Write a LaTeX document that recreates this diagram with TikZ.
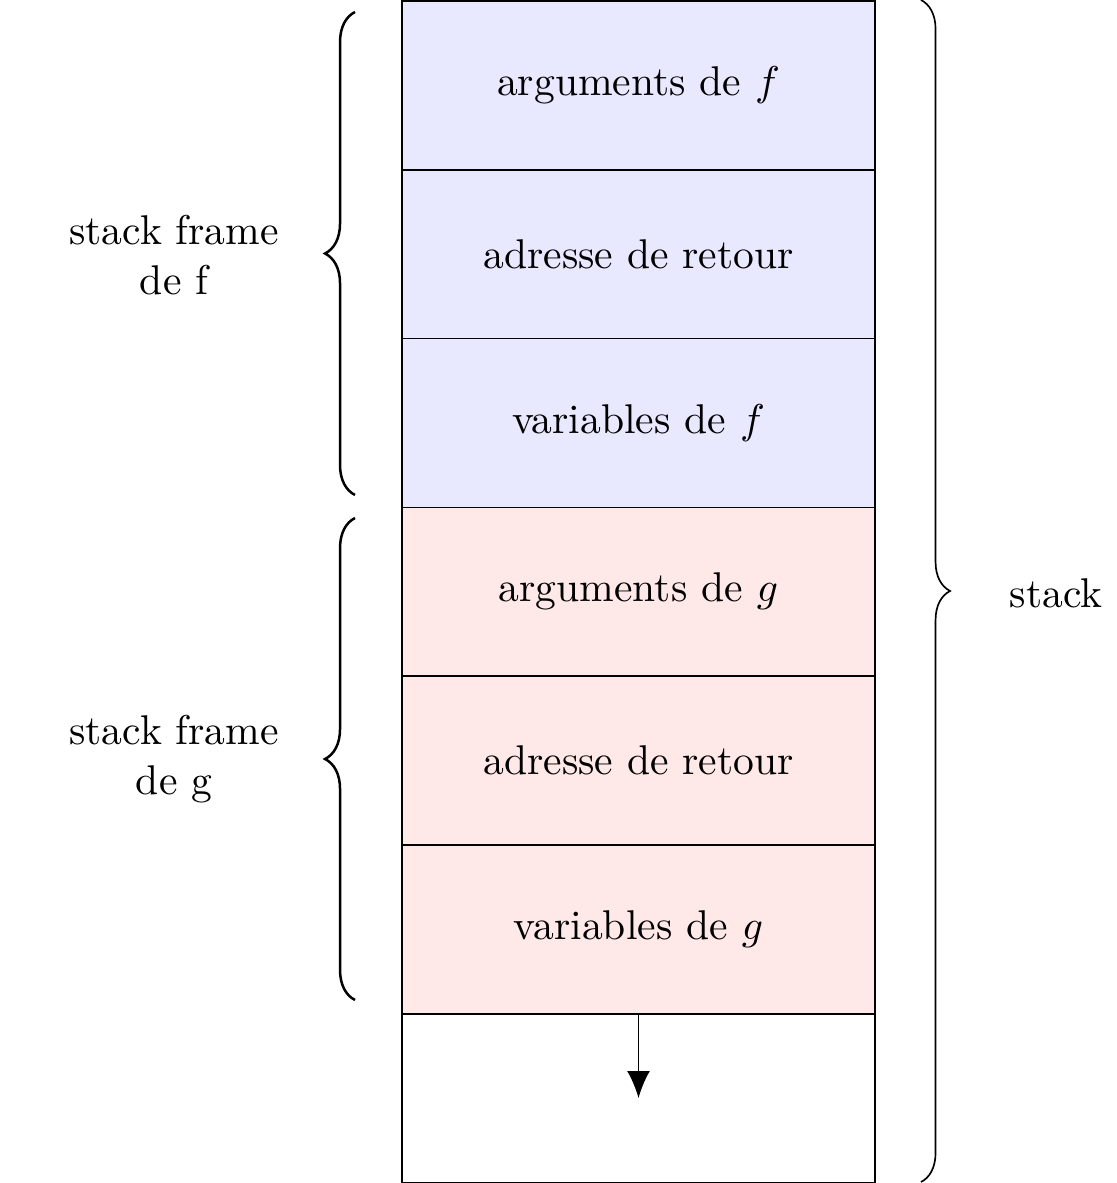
\documentclass[tikz,border=0pt]{standalone}
\usetikzlibrary{decorations.pathreplacing,arrows.meta,positioning}
\begin{document}
\begin{tikzpicture}[x=0.0084567cm,y=0.0084567cm,
  cell/.style={draw=black,line width=0.4pt,rectangle,minimum width=4cm,minimum height=1.4267cm,inner sep=0pt,outer sep=0pt,anchor=north},
  fcell/.style={cell,fill=blue!9},
  gcell/.style={cell,fill=red!9},
  lbrace/.style={decorate,decoration={brace,amplitude=7.2pt},semithick},
  rbrace/.style={decorate,decoration={brace,amplitude=7pt},line width=0.4pt},
  lbl/.style={align=center,inner sep=0pt}]
\useasboundingbox (0,0) rectangle (1117,1183);
\node[fcell] (b1) at (638.5,1182) {arguments de $f$};
\node[fcell,below=0pt of b1] (b2) {adresse de retour};
\node[fcell,below=0pt of b2] (b3) {variables de $f$};
\node[gcell,below=0pt of b3] (b4) {arguments de $g$};
\node[gcell,below=0pt of b4] (b5) {adresse de retour};
\node[gcell,below=0pt of b5] (b6) {variables de $g$};
\node[cell,below=0pt of b6] (b7) {};
\draw[-{Latex[length=6.5pt,width=5.5pt]}] (b7.north) -- (b7.center);
\coordinate (f1) at (355,688);
\coordinate (f2) at (355,1171);
\coordinate (g1) at (355,183);
\coordinate (g2) at (355,665);
\coordinate (s1) at (921,1183);
\coordinate (s2) at (921,1);
\draw[lbrace] (f1) -- (f2);
\draw[lbrace] (g1) -- (g2);
\draw[rbrace] (s1) -- (s2);
\node[lbl] (lf) at (174,928) {stack frame\\de f};
\node[lbl] (lg) at (174,424) {stack frame\\de g};
\node[lbl] (ls) at (1056,590) {stack};
\end{tikzpicture}
\end{document}
